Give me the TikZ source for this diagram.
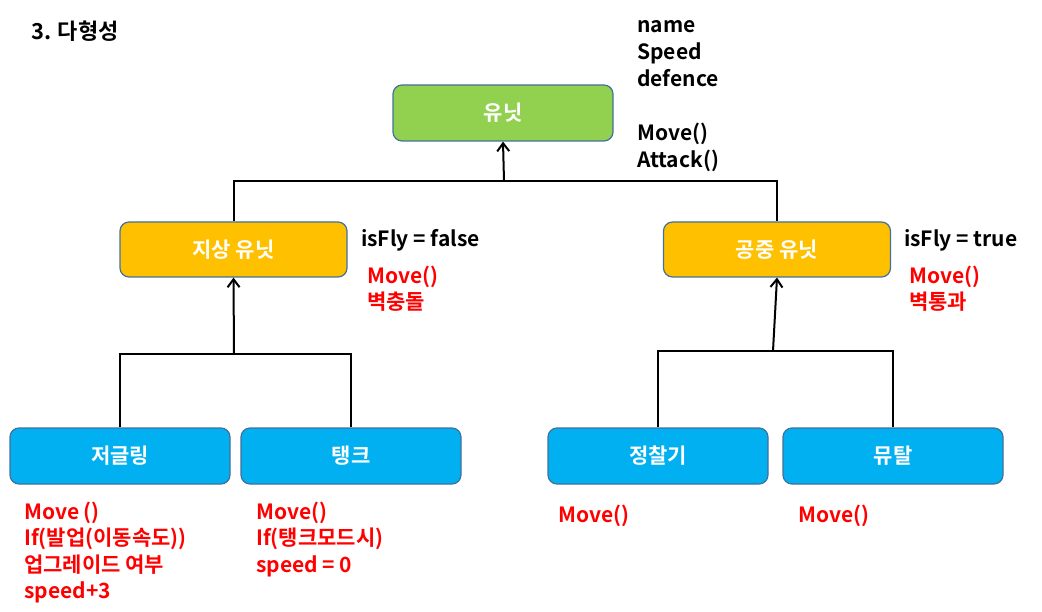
\documentclass[tikz,border=0pt]{standalone}
\usepackage{fontspec}
\setmainfont{Noto Sans CJK KR}[BoldFont={* Bold}]
\usetikzlibrary{arrows, arrows.meta, shapes, positioning}

\definecolor{unitgreen}{HTML}{92D050}
\definecolor{unitgold}{HTML}{FFC000}
\definecolor{unitblue}{HTML}{00B0F0}
\definecolor{edgeblue}{HTML}{41719C}
\definecolor{notered}{HTML}{FF0000}

\newcommand{\lblfont}{\fontsize{21}{27}\selectfont\bfseries}
\newcommand{\redfont}{\fontsize{21}{26.5}\selectfont\bfseries}

\tikzset{
  unitbox/.style={draw=edgeblue, line width=1.2pt, rounded corners=9pt,
    minimum width=220pt, minimum height=56pt, text=white, font=\lblfont},
  attr/.style={anchor=north west, align=left, inner sep=0pt, font=\lblfont},
  rednote/.style={anchor=north west, align=left, inner sep=0pt, font=\redfont, text=notered},
  link/.style={line width=2pt},
  uparrow/.style={link, -{Straight Barb[length=8pt, width=12pt, line width=2pt]}}
}

\begin{document}
\begin{tikzpicture}[x=1pt, y=-1pt]
  \useasboundingbox (0, 0) rectangle (1042, 612);

  % Nodes
  \node[anchor=base west, inner sep=0pt, font=\fontsize{22}{26}\selectfont\bfseries] (title) at (31, 40) {3. 다형성};

  \node[unitbox, fill=unitgreen] (unit) at (503, 113) {유닛};
  \node[attr] (unitattr) at (637, 13.1) {\strut name\\Speed\\defence\\[0pt]\\Move()\\Attack()};

  \node[unitbox, fill=unitgold, minimum width=227pt, minimum height=55pt] (ground) at (233.5, 249.5) {지상 유닛};
  \node[unitbox, fill=unitgold, minimum width=227pt, minimum height=55pt] (air) at (777, 249.5) {공중 유닛};
  \node[anchor=base west, inner sep=0pt, font=\lblfont] (groundfly) at (361, 247) {isFly = false};
  \node[anchor=base west, inner sep=0pt, font=\lblfont] (airfly) at (904, 247) {isFly = true};
  \node[rednote] (groundnote) at (367, 264.5) {\strut Move()\\벽충돌};
  \node[rednote] (airnote) at (909, 264.5) {\strut Move()\\벽통과};

  \node[unitbox, fill=unitblue] (zergling) at (120, 456) {저글링};
  \node[unitbox, fill=unitblue] (tank) at (351, 456) {탱크};
  \node[unitbox, fill=unitblue] (scout) at (658, 456) {정찰기};
  \node[unitbox, fill=unitblue] (mutal) at (893, 456) {뮤탈};
  \node[rednote] (zerglingnote) at (24, 500.5) {\strut Move ()\\If(발업(이동속도))\\업그레이드 여부\\speed+3};
  \node[rednote] (tanknote) at (256, 500.5) {\strut Move()\\If(탱크모드시)\\speed = 0};
  \node[rednote] (scoutnote) at (558, 503.5) {\strut Move()};
  \node[rednote] (mutalnote) at (798, 503.5) {\strut Move()};

  \coordinate (top) at (504, 181);
  \coordinate (left) at (234, 354);
  \coordinate (right) at (773, 351);

  % Edges
  \draw[link] (ground.north) |- (top) -| (air.north);
  \draw[uparrow] (top) -- (unit.south);
  \draw[link] (zergling.north) |- (left) -| (tank.north);
  \draw[uparrow] (left) -- (ground.south);
  \draw[link] (scout.north) |- (right) -| (mutal.north);
  \draw[uparrow] (right) -- (air.south);

\end{tikzpicture}
\end{document}
